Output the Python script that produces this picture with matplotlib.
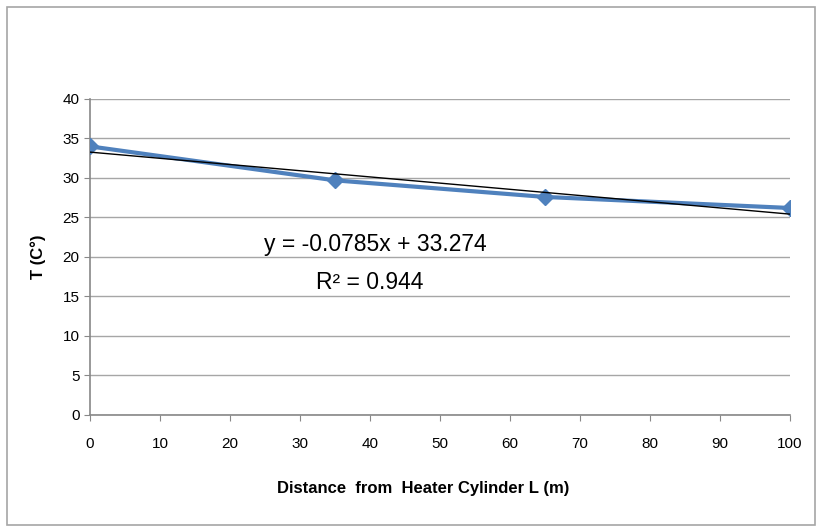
import numpy as np
import matplotlib.pyplot as plt
from matplotlib.patches import Rectangle

# measured temperatures along the pipe
distance = [0, 35, 65, 100]
temperature = [34.0, 29.7, 27.6, 26.2]

# linear trendline as reported on the chart
slope = -0.0785
intercept = 33.274
r_squared = 0.944

xticks = list(range(0, 101, 10))
yticks = list(range(0, 41, 5))

plt.rcParams["font.family"] = ["Liberation Sans", "DejaVu Sans"]

fig = plt.figure(figsize=(8.24, 5.31), dpi=100)
fig.patches.append(Rectangle((0.009, 0.012), 0.98, 0.975, transform=fig.transFigure,
                             fill=False, edgecolor="#a6a6a6", linewidth=1.2))
ax = fig.add_axes([0.1092, 0.2185, 0.8495, 0.5951])

ax.plot(distance, temperature, color="#4f81bd", linewidth=3, marker="D",
        markersize=8, zorder=3)
trend_x = np.array([distance[0], distance[-1]])
ax.plot(trend_x, slope * trend_x + intercept, color="black", linewidth=1, zorder=4)

ax.text(40.8, 21.6, f"y = {slope}x + {intercept}", fontsize=16.5, ha="center", va="center")
ax.text(40, 16.8, f"R² = {r_squared}", fontsize=16.5, ha="center", va="center")

ax.set_xlim(0, 100)
ax.set_ylim(0, 40)
ax.set_xticks(xticks)
ax.set_yticks(yticks)
ax.grid(axis="y", color="#a6a6a6", linewidth=1)
ax.set_axisbelow(True)
for side in ["top", "right"]:
    ax.spines[side].set_visible(False)
for side in ["left", "bottom"]:
    ax.spines[side].set_color("#888888")
    ax.spines[side].set_linewidth(1.2)
ax.tick_params(colors="#888888", labelcolor="black", labelsize=11, length=4)
ax.tick_params(axis="x", pad=12)

ax.set_xlabel("Distance  from  Heater Cylinder L (m)", fontsize=12, fontweight="bold")
ax.xaxis.set_label_coords(0.476, -0.21)
ax.set_ylabel("T (C°)", fontsize=12, fontweight="bold", labelpad=12)

fig.savefig("out.png", dpi=100)
